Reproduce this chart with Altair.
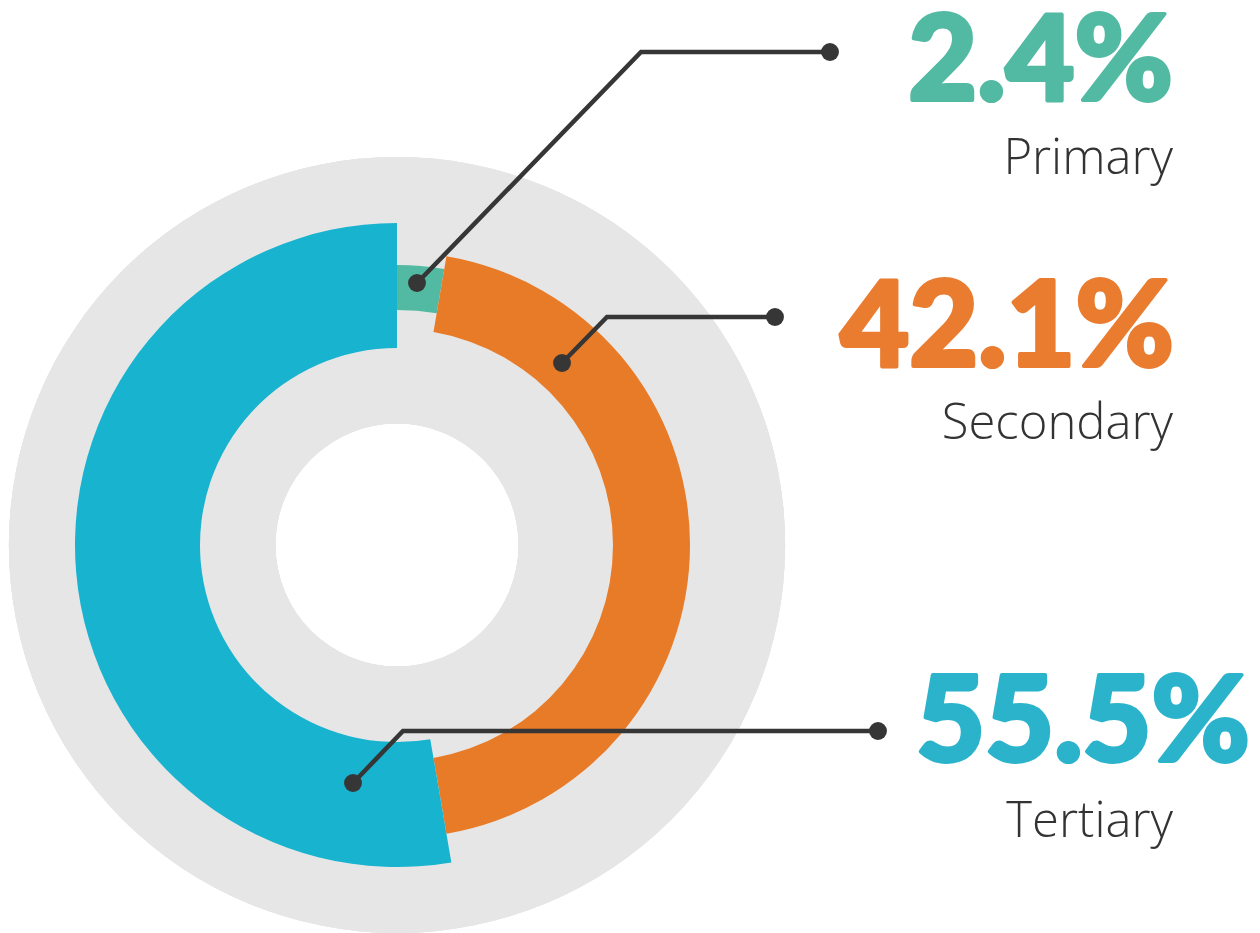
import math
import altair as alt
import pandas as pd

# ---- data ----
categories = ["Primary", "Secondary", "Tertiary"]
pct_labels = [2.4, 42.1, 55.5]          # printed percentages
arc_share = [2.7, 44.6, 52.7]           # arc extent as drawn (% of circle)
colors = ["#52BAA2", "#E87B27", "#17B3CF"]
text_colors = ["#52BAA2", "#EA7C30", "#2AB3CB"]

# ---- layout (pixels) ----
W, H = 1260, 933
CX, CY = 397, 545
R_BG = 388
R_HOLE = 121
ring = {  # outer, inner radius per category
    "Primary": (280, 235),
    "Secondary": (293, 216),
    "Tertiary": (322, 197),
}
leader_pts = {
    "Primary": [(417, 283), (641, 52), (830, 52)],
    "Secondary": [(562, 363), (607, 317), (775, 317)],
    "Tertiary": [(353, 783), (403, 731), (878, 731)],
}
big_pos = {"Primary": (1173, 100), "Secondary": (1174, 366), "Tertiary": (1250, 761)}
small_pos = {"Primary": (1173, 174), "Secondary": (1173, 439), "Tertiary": (1173, 837)}

DARK = "#363636"
GREY = "#E6E6E7"

df = pd.DataFrame({"cat": categories, "arc": arc_share,
                   "order": list(range(len(categories)))})

base = (
    alt.Chart(df)
    .transform_window(cum="sum(arc)", sort=[alt.SortField("order")], frame=[None, 0])
    .transform_calculate(start="datum.cum - datum.arc")
)

theta_scale = alt.Scale(domain=[0, 100], range=[0, 2 * math.pi])

bg = alt.Chart(df).mark_arc(
    theta=0, theta2=2 * math.pi, radius=R_BG, radius2=0, color=GREY
).encode(x=alt.value(CX), y=alt.value(CY))

hole = alt.Chart(df).mark_arc(
    theta=0, theta2=2 * math.pi, radius=R_HOLE, radius2=0, color="#FFFFFF"
).encode(x=alt.value(CX), y=alt.value(CY))

arcs = []
for c, col in zip(categories, colors):
    ro, ri = ring[c]
    arcs.append(
        base.transform_filter(alt.datum.cat == c)
        .mark_arc(radius=ro, radius2=ri, color=col)
        .encode(
            x=alt.value(CX), y=alt.value(CY),
            theta=alt.Theta("start:Q", scale=theta_scale),
            theta2="cum:Q",
        )
    )

# leader lines
rows = []
for c in categories:
    for i, (px, py) in enumerate(leader_pts[c]):
        rows.append({"cat": c, "i": i, "px": px, "py": py})
lead = pd.DataFrame(rows)

lines = alt.Chart(lead).mark_line(color=DARK, strokeWidth=4.5, strokeJoin="miter").encode(
    x=alt.X("px:Q", scale=None), y=alt.Y("py:Q", scale=None),
    detail="cat:N", order="i:Q",
)
dots = alt.Chart(lead).transform_filter(alt.datum.i != 1).mark_circle(
    color=DARK, opacity=1, size=320
).encode(x=alt.X("px:Q", scale=None), y=alt.Y("py:Q", scale=None))

texts = []
for c, v, tc in zip(categories, pct_labels, text_colors):
    bx, by = big_pos[c]
    sx, sy = small_pos[c]
    tdf = pd.DataFrame({"big": [f"{v}%"], "small": [c]})
    texts.append(
        alt.Chart(tdf).mark_text(
            align="right", baseline="alphabetic", font="Lato", fontWeight=900,
            fontSize=119, color=tc, stroke=tc, strokeWidth=4, strokeJoin="round",
        ).encode(x=alt.value(bx), y=alt.value(by), text="big:N")
    )
    texts.append(
        alt.Chart(tdf).mark_text(
            align="right", baseline="alphabetic", font="Open Sans", fontWeight=300,
            fontSize=49, color="#333333",
        ).encode(x=alt.value(sx), y=alt.value(sy), text="small:N")
    )

chart = alt.layer(bg, hole, *arcs, lines, dots, *texts).properties(
    width=W, height=H, autosize=alt.AutoSizeParams(type="none"), padding=0,
    background="#FFFFFF",
).configure_view(stroke=None)

chart.save("out.html", embed_options={"renderer": "svg", "actions": False})
